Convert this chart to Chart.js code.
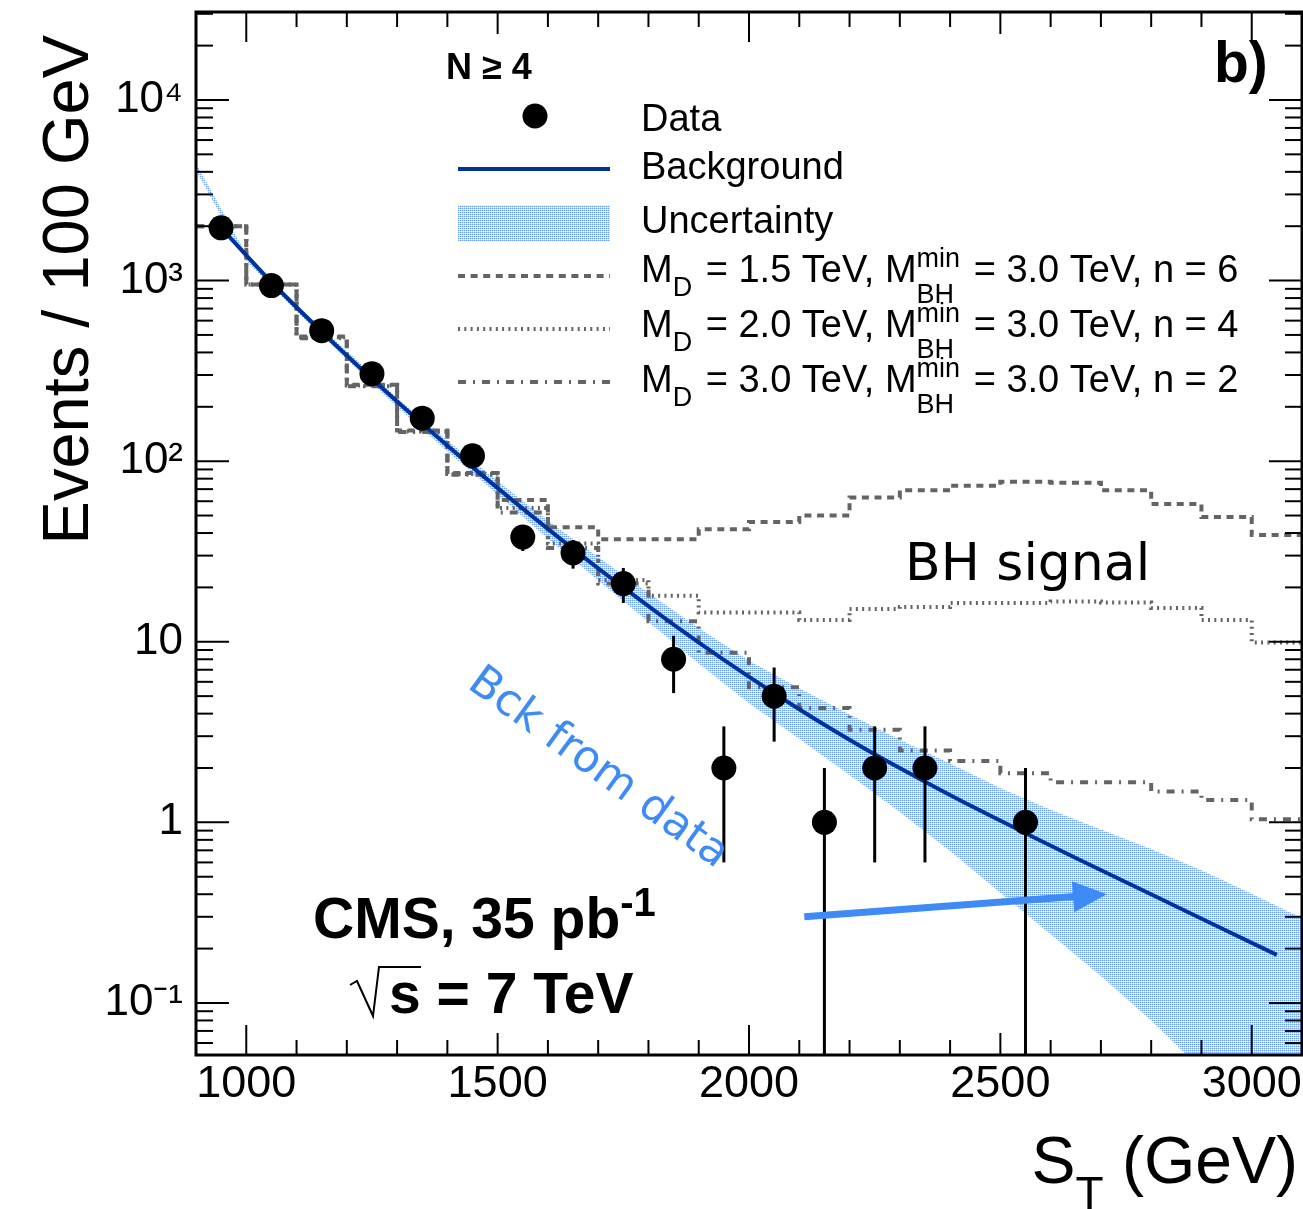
<!DOCTYPE html>
<html>
<head>
<meta charset="utf-8">
<script src="https://cdn.jsdelivr.net/npm/chart.js@4.4.0/dist/chart.umd.min.js"></script>
<style>
  html, body { margin: 0; padding: 0; background: #fff; }
  canvas { display: block; }
</style>
</head>
<body>
<canvas id="chart" width="1303" height="1209"></canvas>
<script>
// --- data (N >= 4, CMS 35 pb-1) ---
const dataX   = [950, 1050, 1150, 1250, 1350, 1450, 1550, 1650, 1750, 1850, 1950, 2050, 2150, 2250, 2350, 2550];
const dataY   = [1960, 938, 528, 305, 173, 107, 38, 31, 21, 8, 2, 5, 1, 2, 2, 1];
const dataErr = [44.3, 30.6, 23.0, 17.5, 13.2, 10.3, 6.2, 5.6, 4.6, 2.8, 1.4, 2.2, 1.0, 1.4, 1.4, 1.0];

// background fit, at bin centres
const bkgX = [950, 1050, 1150, 1250, 1350, 1450, 1550, 1650, 1750, 1850, 1950, 2050, 2150, 2250, 2350, 2450, 2550, 2650, 2750, 2850, 2950, 3050];
const bkgY = [1960, 982, 521, 286, 161, 92.7, 54.6, 32.7, 20.0, 12.45, 7.94, 5.19, 3.47, 2.38, 1.68, 1.20, 0.871, 0.635, 0.466, 0.342, 0.251, 0.1845];

// uncertainty band edges
const bandX    = [900, 1000, 1100, 1200, 1300, 1400, 1500, 1600, 1700, 1800, 1900, 2000, 2100, 2200, 2300, 2400, 2500, 2600, 2700, 2800, 2900, 3000, 3100];
const bandLow  = [4074, 1288, 676, 367, 200, 113.5, 65.3, 37.2, 21.9, 12.9, 7.59, 4.57, 2.90, 1.83, 1.14, 0.695, 0.407, 0.24, 0.141, 0.080, 0.043, 0.022, 0.011];
const bandHigh = [4467, 1396, 733, 407, 224, 130, 77.6, 46.8, 29.5, 18.6, 11.9, 7.85, 5.52, 3.95, 2.87, 2.12, 1.55, 1.175, 0.912, 0.713, 0.543, 0.403, 0.295];

// BH signal + background histograms, 100 GeV bins from 900 to 3100
const binEdges = [900, 1000, 1100, 1200, 1300, 1400, 1500, 1600, 1700, 1800, 1900, 2000, 2100, 2200, 2300, 2400, 2500, 2600, 2700, 2800, 2900, 3000, 3100];
const sigA = [2000, 950, 490, 265, 148, 86, 61, 43, 37, 37, 42, 46, 50, 63, 69, 73, 77, 76, 69, 58, 49, 39];
const sigB = [2000, 950, 485, 262, 146, 85, 55, 35, 22, 18, 14.5, 14.5, 13.2, 15.2, 15.6, 16.4, 16.4, 16.7, 16.5, 15.4, 13.2, 9.9];
const sigC = [2000, 950, 480, 260, 145, 84, 52, 33, 21, 13, 8.7, 5.6, 4.3, 3.26, 2.5, 2.19, 1.87, 1.67, 1.67, 1.48, 1.33, 1.04];
const sigMD = ['1.5', '2.0', '3.0'];
const sigN  = ['6', '4', '2'];
const sigDash = [[7, 5.6], [2, 4.3], [8, 7, 2, 7]];

// axes
const xTicks = [1000, 1500, 2000, 2500, 3000];
const yTicks = [0.1, 1, 10, 100, 1000, 10000];
const yTickLabels = ['10\u207B\u00B9', '1', '10', '10\u00B2', '10\u00B3', '10\u2074'];

const F = '"Liberation Sans", Arial, Helvetica, sans-serif';
const GREY = 'rgb(100,100,100)';
const BLUE = '#003399';
const LBLUE = '#3f8bf6';

function makePattern() {
  const c = document.createElement('canvas');
  c.width = 2; c.height = 2;
  const p = c.getContext('2d');
  p.fillStyle = '#6fa2f3'; p.fillRect(0, 0, 1, 1);
  p.fillStyle = '#b9d1f8'; p.fillRect(1, 0, 1, 1);
  p.fillStyle = '#d6e4fb'; p.fillRect(0, 1, 1, 1);
  p.fillStyle = '#ffffff'; p.fillRect(1, 1, 1, 1);
  return document.getElementById('chart').getContext('2d').createPattern(c, 'repeat');
}
const bandPattern = makePattern();

function pts(xs, ys) { return xs.map((x, i) => ({ x: x, y: ys[i] })); }
function histPts(vals) {
  const p = vals.map((v, i) => ({ x: binEdges[i], y: v }));
  p.push({ x: binEdges[binEdges.length - 1], y: vals[vals.length - 1] });
  return p;
}

function line(ctx, x1, y1, x2, y2) {
  ctx.beginPath(); ctx.moveTo(x1, y1); ctx.lineTo(x2, y2); ctx.stroke();
}

// text with sub/superscripts: parts = [{t}, {sup, sub, subDy}]
function rich(ctx, x, y, size, parts, weight) {
  let cx = x;
  const w = weight ? weight + ' ' : '';
  for (const p of parts) {
    if (p.t !== undefined) {
      ctx.font = w + size + 'px ' + F;
      ctx.fillText(p.t, cx, y);
      cx += ctx.measureText(p.t).width;
    } else {
      const s = Math.round(size * 0.7);
      ctx.font = w + s + 'px ' + F;
      let adv = 0;
      if (p.sup) { ctx.fillText(p.sup, cx, y - size * 0.39); adv = Math.max(adv, ctx.measureText(p.sup).width); }
      if (p.sub) { ctx.fillText(p.sub, cx, y + size * (p.subDy || 0.36)); adv = Math.max(adv, ctx.measureText(p.sub).width); }
      cx += adv + (p.gap || 0);
    }
  }
  return cx;
}

const decor = {
  id: 'rootDecor',
  afterDatasetsDraw(chart) {
    const ctx = chart.ctx, xs = chart.scales.x, ys = chart.scales.y, a = chart.chartArea;
    ctx.save();
    ctx.beginPath(); ctx.rect(a.left, a.top, a.right - a.left, a.bottom - a.top); ctx.clip();
    ctx.strokeStyle = '#000'; ctx.lineWidth = 3;
    dataX.forEach((x, i) => {
      const px = xs.getPixelForValue(x);
      const lo = dataY[i] - dataErr[i];
      const yTop = ys.getPixelForValue(dataY[i] + dataErr[i]);
      const yBot = lo > 0 ? ys.getPixelForValue(lo) : a.bottom;
      line(ctx, px, yTop, px, yBot);
    });
    ctx.restore();
  },
  afterDraw(chart) {
    const ctx = chart.ctx, xs = chart.scales.x, ys = chart.scales.y, a = chart.chartArea;
    ctx.save();
    // ticks inside the frame, all four sides
    ctx.strokeStyle = '#000'; ctx.lineWidth = 2;
    for (let v = 1000; v <= 3100; v += 100) {
      const len = v % 1000 === 0 ? 30 : (v % 500 === 0 ? 22 : 15);
      const px = xs.getPixelForValue(v);
      line(ctx, px, a.bottom, px, a.bottom - len);
      line(ctx, px, a.top, px, a.top + len);
    }
    for (let k = -2; k <= 4; k++) {
      for (let m = 1; m <= 9; m++) {
        const v = m * Math.pow(10, k);
        if (v < ys.min || v > ys.max) continue;
        const len = m === 1 ? 33 : 17;
        const py = ys.getPixelForValue(v);
        line(ctx, a.left, py, a.left + len, py);
        line(ctx, a.right, py, a.right - len, py);
      }
    }
    ctx.lineWidth = 3;
    ctx.strokeRect(a.left, a.top, a.right - a.left, a.bottom - a.top);

    // axis titles
    ctx.fillStyle = '#000';
    ctx.textBaseline = 'alphabetic';
    ctx.save();
    ctx.translate(88, 35); ctx.rotate(-Math.PI / 2);
    ctx.font = '65px ' + F; ctx.textAlign = 'right';
    ctx.fillText('Events / 100 GeV', 0, 0);
    ctx.restore();

    ctx.textAlign = 'left';
    ctx.font = '66px ' + F;
    const wS = ctx.measureText('S').width, wG = ctx.measureText(' (GeV)').width;
    ctx.font = '46px ' + F;
    const wT = ctx.measureText('T').width;
    let sx = 1298 - wS - wT - wG;
    ctx.font = '66px ' + F; ctx.fillText('S', sx, 1183);
    ctx.font = '46px ' + F; ctx.fillText('T', sx + wS, 1209);
    ctx.font = '66px ' + F; ctx.fillText(' (GeV)', sx + wS + wT, 1183);

    // legend
    ctx.font = 'bold 36px ' + F;
    ctx.fillText('N \u2265 4', 446, 79);
    ctx.beginPath(); ctx.arc(535, 116, 12.5, 0, 2 * Math.PI); ctx.fill();
    ctx.font = '38px ' + F;
    ctx.fillText('Data', 641, 131);
    ctx.strokeStyle = BLUE; ctx.lineWidth = 4;
    line(ctx, 458, 169, 610, 169);
    ctx.fillText('Background', 641, 179);
    ctx.fillStyle = bandPattern; ctx.fillRect(458, 205, 152, 36);
    ctx.fillStyle = '#000';
    ctx.fillText('Uncertainty', 641, 233);
    const rowLineY = [276, 329, 382], rowBase = [282, 337, 392];
    for (let i = 0; i < 3; i++) {
      ctx.strokeStyle = GREY; ctx.lineWidth = 4; ctx.setLineDash(sigDash[i]);
      line(ctx, 458, rowLineY[i], 610, rowLineY[i]);
      ctx.setLineDash([]);
      rich(ctx, 641, rowBase[i], 38, [
        { t: 'M' }, { sub: 'D', subDy: 0.36, gap: 3 },
        { t: ' = ' + sigMD[i] + ' TeV, M' }, { sup: 'min', sub: 'BH', subDy: 0.55, gap: 3 },
        { t: ' = 3.0 TeV, n = ' + sigN[i] }
      ]);
    }

    // labels
    ctx.font = 'bold 57px ' + F;
    ctx.fillText('b)', 1214, 82);
    ctx.font = '52px "DejaVu Sans", sans-serif';
    ctx.fillText('BH signal', 905, 580);

    rich(ctx, 313, 938, 57, [{ t: 'CMS, 35 pb' }, { sup: '-1' }], 'bold');
    ctx.strokeStyle = '#000'; ctx.lineWidth = 2;
    ctx.beginPath();
    ctx.moveTo(350, 985); ctx.lineTo(357, 981); ctx.lineTo(373, 1016); ctx.lineTo(379, 967); ctx.lineTo(421, 967);
    ctx.stroke();
    ctx.font = 'bold 57px ' + F;
    ctx.fillText('s = 7 TeV', 389, 1013);

    // "Bck from data" + arrow
    ctx.fillStyle = LBLUE; ctx.strokeStyle = LBLUE;
    ctx.save();
    ctx.translate(466, 687); ctx.rotate(36 * Math.PI / 180);
    ctx.font = '44px "DejaVu Sans", sans-serif';
    ctx.fillText('Bck from data', 0, 0);
    ctx.restore();

    const ax1 = xs.getPixelForValue(2110), ay1 = ys.getPixelForValue(0.30);
    const ax2 = xs.getPixelForValue(2712), ay2 = ys.getPixelForValue(0.40);
    const ang = Math.atan2(ay2 - ay1, ax2 - ax1);
    const hl = 34, hw = 15.5;
    const bx = ax2 - hl * Math.cos(ang), by = ay2 - hl * Math.sin(ang);
    ctx.lineWidth = 7;
    line(ctx, ax1, ay1, bx + 2 * Math.cos(ang), by + 2 * Math.sin(ang));
    ctx.beginPath();
    ctx.moveTo(ax2, ay2);
    ctx.lineTo(bx + hw * Math.sin(ang), by - hw * Math.cos(ang));
    ctx.lineTo(bx - hw * Math.sin(ang), by + hw * Math.cos(ang));
    ctx.closePath(); ctx.fill();
    ctx.restore();
  }
};

new Chart(document.getElementById('chart'), {
  data: {
    datasets: [
      { type: 'scatter', label: 'Data', data: pts(dataX, dataY), order: 0,
        pointRadius: 12.5, pointBackgroundColor: '#000', pointBorderWidth: 0, showLine: false },
      { type: 'line', label: 'Background', data: pts(bkgX, bkgY), order: 1,
        borderColor: BLUE, borderWidth: 4, pointRadius: 0, cubicInterpolationMode: 'monotone', fill: false },
      { type: 'line', label: 'MD = 1.5 TeV', data: histPts(sigA), order: 2, stepped: 'before',
        borderColor: GREY, borderWidth: 4, borderDash: sigDash[0], pointRadius: 0, fill: false },
      { type: 'line', label: 'MD = 2.0 TeV', data: histPts(sigB), order: 2, stepped: 'before',
        borderColor: GREY, borderWidth: 4, borderDash: sigDash[1], pointRadius: 0, fill: false },
      { type: 'line', label: 'MD = 3.0 TeV', data: histPts(sigC), order: 2, stepped: 'before',
        borderColor: GREY, borderWidth: 4, borderDash: sigDash[2], pointRadius: 0, fill: false },
      { type: 'line', label: 'band low', data: pts(bandX, bandLow), order: 3,
        borderWidth: 0, pointRadius: 0, fill: false },
      { type: 'line', label: 'Uncertainty', data: pts(bandX, bandHigh), order: 3,
        borderWidth: 0, pointRadius: 0, backgroundColor: bandPattern, fill: 5 }
    ]
  },
  options: {
    responsive: false,
    animation: false,
    devicePixelRatio: 1,
    layout: { autoPadding: false, padding: { left: 0, right: 1, top: 12, bottom: 0 } },
    plugins: { legend: { display: false }, tooltip: { enabled: false } },
    scales: {
      x: {
        type: 'linear', position: 'bottom', min: 900, max: 3100,
        grid: { display: false, drawTicks: false }, border: { display: false },
        afterBuildTicks: s => { s.ticks = xTicks.map(v => ({ value: v })); },
        afterFit: s => { s.height = 154; s.paddingLeft = 0; s.paddingRight = 0; },
        ticks: { autoSkip: false, maxRotation: 0, padding: 3, color: '#000',
          font: { family: 'Liberation Sans', size: 45 }, callback: v => String(v) }
      },
      y: {
        type: 'logarithmic', position: 'left', min: 0.0515, max: 30700,
        grid: { display: false, drawTicks: false }, border: { display: false },
        afterBuildTicks: s => { s.ticks = yTicks.map(v => ({ value: v })); },
        afterFit: s => { s.width = 196; s.paddingTop = 0; s.paddingBottom = 0; },
        ticks: { autoSkip: false, padding: 13, color: '#000',
          font: { family: 'Liberation Sans', size: 44 },
          callback: v => { const i = yTicks.indexOf(v); return i >= 0 ? yTickLabels[i] : ''; } }
      }
    }
  },
  plugins: [decor]
});
</script>
</body>
</html>
